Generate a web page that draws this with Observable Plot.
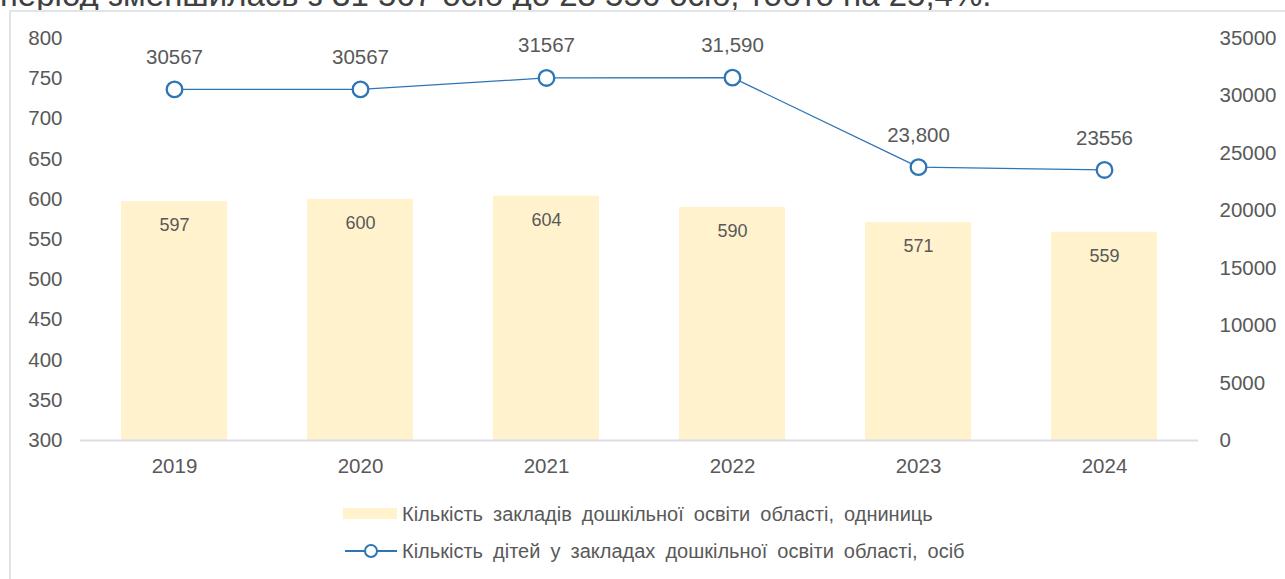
<!DOCTYPE html>
<html><head><meta charset="utf-8">
<script src="https://cdn.jsdelivr.net/npm/d3@7"></script>
<script src="https://cdn.jsdelivr.net/npm/@observablehq/plot@0.6"></script>
<style>
html,body{margin:0;padding:0;background:#fff;}
body{font-family:"Liberation Sans",Arial,sans-serif;overflow:hidden;width:1285px;height:579px;position:relative}
#top{position:absolute;left:0;top:-22px;font-size:33px;line-height:33px;color:#404040;white-space:nowrap}
#frame{position:absolute;left:9px;top:10px;width:1300px;height:620px;border:2px solid #e1e5ea;box-sizing:border-box;background:#fff}
#chart{position:absolute;left:0;top:0}
.lg{position:absolute;left:0;top:0;font-size:20px;word-spacing:4.5px;color:#595959;white-space:nowrap}
</style></head>
<body>
<div id="top">період зменшилась з 31 567 осіб до 23 556 осіб, тобто на 25,4%.</div>
<div id="frame"></div>
<div id="chart"></div>
<div id="legend"></div>
<script>
const years = ["2019", "2020", "2021", "2022", "2023", "2024"];
const institutions = [597, 600, 604, 590, 571, 559];
const children = [30567, 30567, 31567, 31590, 23800, 23556];
const childLabels = ["30567", "30567", "31567", "31,590", "23,800", "23556"];
const leftTicks = [300, 350, 400, 450, 500, 550, 600, 650, 700, 750, 800];
const rightTicks = [0, 5000, 10000, 15000, 20000, 25000, 30000, 35000];
const legendLabels = ["Кількість закладів дошкільної освіти області, одниниць", "Кількість дітей у закладах дошкільної освіти області, осіб"];

const LMIN = 300, LMAX = 800, RMAX = 35000;
const toLeft = v => LMIN + v / RMAX * (LMAX - LMIN);
const fromLeft = d => Math.round((d - LMIN) / (LMAX - LMIN) * RMAX);

const data = years.map((y, i) => ({year: y, inst: institutions[i], kids: children[i], kidLabel: childLabels[i]}));
const BLUE = "#2e75b6", TXT = "#595959";
const FS = 20.5;

const chart = Plot.plot({
  width: 1285,
  height: 480,
  marginLeft: 80,
  marginRight: 87,
  marginTop: 38,
  marginBottom: 40,
  style: {fontFamily: "'Liberation Sans', Arial, sans-serif", fontSize: FS + "px", color: TXT, background: "transparent"},
  x: {domain: years, paddingInner: 0.43, paddingOuter: 0.215, axis: null, label: null},
  y: {domain: [LMIN, LMAX], axis: null, label: null},
  marks: [
    Plot.barY(data, {x: "year", y1: LMIN, y2: "inst", fill: "#fff2cc"}),
    Plot.ruleY([LMIN], {stroke: "#dadee4", strokeWidth: 2}),
    Plot.text(data, {x: "year", y: "inst", dy: 24, text: d => String(d.inst), fill: TXT, fontSize: 18}),
    Plot.line(data, {x: "year", y: d => toLeft(d.kids), stroke: BLUE, strokeWidth: 1.3}),
    Plot.dot(data, {x: "year", y: d => toLeft(d.kids), r: 7.8, fill: "white", stroke: BLUE, strokeWidth: 2.3}),
    Plot.text(data, {x: "year", y: d => toLeft(d.kids), dy: -32, text: "kidLabel", fill: TXT, fontSize: FS}),
    Plot.axisY(leftTicks, {anchor: "left", tickSize: 0, tickPadding: 18, fill: TXT, fontSize: FS, label: null}),
    Plot.axisY(rightTicks.map(toLeft), {anchor: "right", tickSize: 0, tickPadding: 21, tickFormat: d => String(fromLeft(d)), fill: TXT, fontSize: FS, label: null}),
    Plot.axisX(years, {tickSize: 0, tickPadding: 18, fill: TXT, fontSize: FS, label: null})
  ]
});
document.getElementById("chart").appendChild(chart);

const lg = document.getElementById("legend");
lg.innerHTML = `
<div style="position:absolute;left:343px;top:508px;width:54px;height:11px;background:#fff2cc"></div>
<div class="lg" style="left:402px;top:502px;line-height:24px">${legendLabels[0]}</div>
<div style="position:absolute;left:345px;top:550px;width:52px;height:1.5px;background:${BLUE}"></div>
<div style="position:absolute;left:364px;top:544px;width:10px;height:10px;border:2.3px solid ${BLUE};border-radius:50%;background:#fff"></div>
<div class="lg" style="left:402px;top:539px;line-height:24px">${legendLabels[1]}</div>
`;
</script>
</body></html>
